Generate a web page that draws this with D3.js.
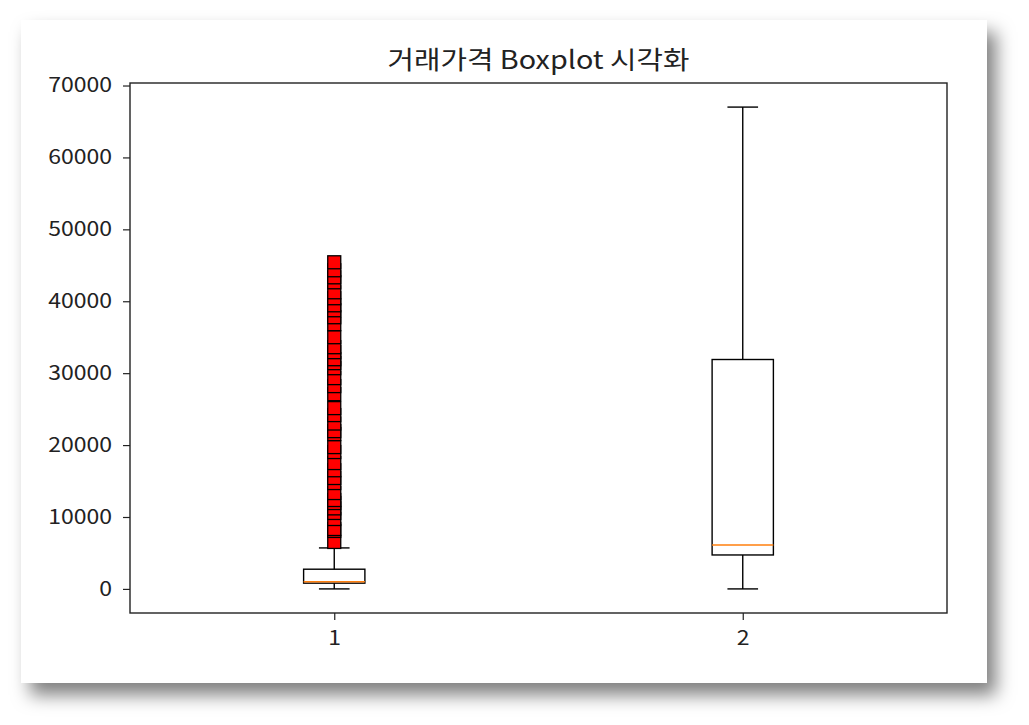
<!DOCTYPE html>
<html>
<head>
<meta charset="utf-8">
<script src="https://cdn.jsdelivr.net/npm/d3@7"></script>
<style>
  body { margin: 0; background: #fff; }
  text { font-family: "Noto Sans CJK KR", "Noto Sans", sans-serif; }
</style>
</head>
<body>
<svg width="1029" height="725"></svg>
<script>
// box stats
const groups = [1, 2];
const whiskLo = [0, 0];
const q1 = [800, 4720];
const median = [1000, 6100];
const q3 = [2740, 31900];
const whiskHi = [5700, 67000];
// outliers of box 1 (box 2 has none)
const fliers1 = [6530, 8060, 8330, 9720, 10560, 11200, 11940, 12360, 13330, 14720,
  15420, 16500, 17500, 19030, 19720, 21530, 21940, 23000, 24170, 25140, 27080,
  28200, 29310, 30690, 31390, 31940, 32920, 33610, 35000, 36810, 37780, 38750,
  39440, 40420, 41250, 42640, 43330, 44310, 45420];
const yTicks = [0, 10000, 20000, 30000, 40000, 50000, 60000, 70000];

const svg = d3.select("svg");
const sx = 1.15; // the reference glyphs are a little wider than Noto's

// card with drop shadow
const defs = svg.append("defs");
defs.append("filter").attr("id", "shadow")
  .attr("x", "-10%").attr("y", "-10%").attr("width", "130%").attr("height", "130%")
  .append("feDropShadow")
  .attr("dx", 9).attr("dy", 12).attr("stdDeviation", 9)
  .attr("flood-color", "#000").attr("flood-opacity", 0.5);
svg.append("rect").attr("x", 21).attr("y", 20).attr("width", 966).attr("height", 663)
  .attr("fill", "#fff").attr("filter", "url(#shadow)");

const pL = 130, pR = 947, pT = 83, pB = 613;
const x = d3.scaleLinear().domain([0.5, 2.5]).range([pL, pR]);
const y = d3.scaleLinear().domain([-3350, 70350]).range([pB, pT]);

const boxW = 0.15, capW = 0.075;

const yAxis = d3.axisLeft(y).tickValues(yTicks).tickSize(7).tickFormat(d3.format("d"));
const gy = svg.append("g").attr("transform", "translate(" + pL + ",0)").call(yAxis);
gy.select(".domain").remove();
gy.selectAll("text").attr("font-size", 20).attr("fill", "#222")
  .attr("x", -18 / sx).attr("transform", "scale(" + sx + ",1)");
gy.selectAll("line").attr("stroke", "#222").attr("stroke-width", 1.2);

const xAxis = d3.axisBottom(x).tickValues(groups).tickSize(7).tickPadding(11).tickFormat(d3.format("d"));
const gx = svg.append("g").attr("transform", "translate(0," + pB + ")").call(xAxis);
gx.select(".domain").remove();
gx.selectAll("text").attr("font-size", 20).attr("fill", "#222")
  .attr("transform", "scale(" + sx + ",1)");
gx.selectAll("line").attr("stroke", "#222").attr("stroke-width", 1.2);

const g = svg.append("g");

groups.forEach(function (p, i) {
  // whiskers
  g.append("line").attr("x1", x(p)).attr("x2", x(p))
    .attr("y1", y(whiskLo[i])).attr("y2", y(q1[i]))
    .attr("stroke", "#000").attr("stroke-width", 1.4);
  g.append("line").attr("x1", x(p)).attr("x2", x(p))
    .attr("y1", y(q3[i])).attr("y2", y(whiskHi[i]))
    .attr("stroke", "#000").attr("stroke-width", 1.4);
  // caps
  [whiskLo[i], whiskHi[i]].forEach(function (v) {
    g.append("line").attr("x1", x(p - capW / 2)).attr("x2", x(p + capW / 2))
      .attr("y1", y(v)).attr("y2", y(v))
      .attr("stroke", "#000").attr("stroke-width", 1.4);
  });
  // box
  g.append("rect").attr("x", x(p - boxW / 2)).attr("y", y(q3[i]))
    .attr("width", x(p + boxW / 2) - x(p - boxW / 2))
    .attr("height", y(q1[i]) - y(q3[i]))
    .attr("fill", "none").attr("stroke", "#000").attr("stroke-width", 1.4);
  // median
  g.append("line").attr("x1", x(p - boxW / 2)).attr("x2", x(p + boxW / 2))
    .attr("y1", y(median[i])).attr("y2", y(median[i]))
    .attr("stroke", "#ff7f0e").attr("stroke-width", 1.6);
});

const ms = 13;
g.selectAll("rect.flier").data(fliers1).enter().append("rect")
  .attr("class", "flier")
  .attr("x", x(1) - ms / 2)
  .attr("y", function (d) { return y(d) - ms / 2; })
  .attr("width", ms).attr("height", ms)
  .attr("fill", "#ff0000").attr("stroke", "#000").attr("stroke-width", 1.3);

// frame
svg.append("rect").attr("x", pL).attr("y", pT)
  .attr("width", pR - pL).attr("height", pB - pT)
  .attr("fill", "none").attr("stroke", "#222").attr("stroke-width", 1.4);

svg.append("text").attr("x", (pL + pR) / 2 / sx).attr("y", 69)
  .attr("transform", "scale(" + sx + ",1)")
  .attr("text-anchor", "middle").attr("font-size", 25).attr("fill", "#222")
  .text("거래가격 Boxplot 시각화");
</script>
</body>
</html>
